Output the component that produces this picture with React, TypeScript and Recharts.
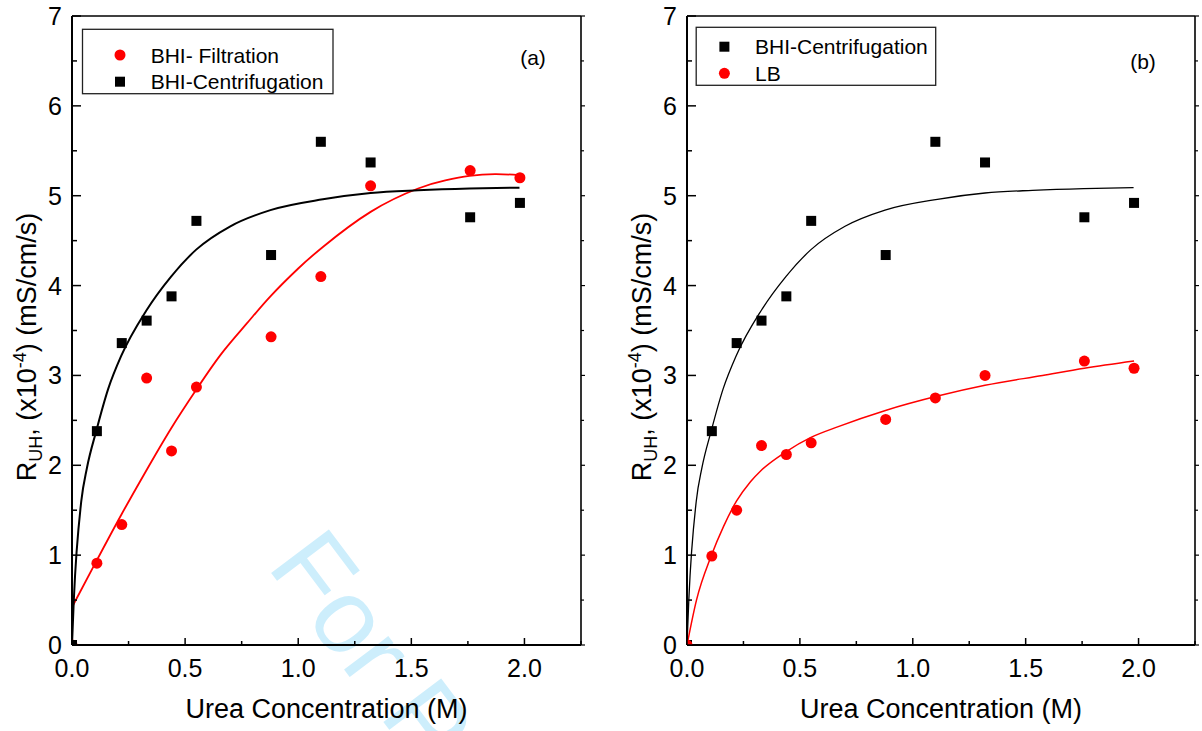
import { ComposedChart, Line, Scatter, XAxis, YAxis } from 'recharts'

// measured points (urea concentration in M)
const urea = [0, 0.11, 0.22, 0.33, 0.44, 0.55, 0.88, 1.1, 1.32, 1.76, 1.98]
const bhiCentrifugation = [0, 2.38, 3.36, 3.61, 3.88, 4.72, 4.34, 5.6, 5.37, 4.76, 4.92]
const bhiFiltration = [0, 0.91, 1.34, 2.97, 2.16, 2.87, 3.43, 4.1, 5.11, 5.28, 5.2]
const lb = [0, 0.99, 1.5, 2.22, 2.12, 2.25, 2.51, 2.75, 3.0, 3.16, 3.08]

// fitted curves
const centFitX = [0, 0.008, 0.041, 0.066, 0.107, 0.16, 0.218, 0.328, 0.438, 0.549, 0.7, 0.877, 1.109, 1.32, 1.53, 1.757, 1.978]
const centFitY = [0, 0.5, 1.6, 1.97, 2.38, 2.85, 3.22, 3.72, 4.1, 4.4, 4.66, 4.84, 4.96, 5.03, 5.06, 5.08, 5.09]
const filtFitX = [0, 0.107, 0.218, 0.328, 0.438, 0.549, 0.66, 0.77, 0.877, 1.0, 1.109, 1.32, 1.53, 1.65, 1.757, 1.87, 1.978]
const filtFitY = [0.42, 0.93, 1.45, 1.94, 2.41, 2.84, 3.24, 3.57, 3.88, 4.19, 4.43, 4.82, 5.08, 5.17, 5.22, 5.24, 5.23]
const lbFitX = [0, 0.042, 0.107, 0.162, 0.219, 0.282, 0.327, 0.438, 0.549, 0.67, 0.879, 1.11, 1.32, 1.575, 1.76, 1.98]
const lbFitY = [0, 0.5, 0.99, 1.32, 1.6, 1.82, 1.94, 2.15, 2.31, 2.43, 2.61, 2.77, 2.89, 3.0, 3.08, 3.16]

const xTicks = [0, 0.25, 0.5, 0.75, 1, 1.25, 1.5, 1.75, 2, 2.25]
const yTicks = [0, 0.5, 1, 1.5, 2, 2.5, 3, 3.5, 4, 4.5, 5, 5.5, 6, 6.5, 7]

const FONT = '"Liberation Sans", Arial, Helvetica, sans-serif'
const RED = '#ff0000'

type Pt = { x: number; y: number }
const toPoints = (xs: number[], ys: number[]): Pt[] => xs.map((x, i) => ({ x, y: ys[i] }))

const isStep = (v: number, step: number) => Math.abs(v / step - Math.round(v / step)) < 1e-6

const Square = (p: any) => <rect x={p.cx - 5} y={p.cy - 5} width={10} height={10} fill="#000" />
const Circle = (p: any) => <circle cx={p.cx} cy={p.cy} r={5.5} fill={RED} />

const BottomTick = (p: any) => {
  const v = p.payload.value
  const major = isStep(v, 0.5)
  return (
    <g>
      <line x1={p.x} x2={p.x} y1={p.y} y2={p.y - (major ? 7 : 4)} stroke="#000" strokeWidth={1.5} />
      {major && (
        <text x={p.x} y={p.y + 32} textAnchor="middle" fontSize={25} fontFamily={FONT} fill="#000">
          {v.toFixed(1)}
        </text>
      )}
    </g>
  )
}

const LeftTick = (p: any) => {
  const v = p.payload.value
  const major = isStep(v, 1)
  return (
    <g>
      <line x1={p.x} x2={p.x + (major ? 9 : 5)} y1={p.y} y2={p.y} stroke="#000" strokeWidth={1.5} />
      {major && (
        <text x={p.x - 10} y={p.y + 9} textAnchor="end" fontSize={25} fontFamily={FONT} fill="#000">
          {v}
        </text>
      )}
    </g>
  )
}

const TopTick = (p: any) => (
  <line x1={p.x} x2={p.x} y1={p.y} y2={p.y - (isStep(p.payload.value, 0.5) ? 3 : 2)} stroke="#000" strokeWidth={1.2} />
)

const RightTick = (p: any) => (
  <line x1={p.x} x2={p.x + (isStep(p.payload.value, 1) ? 4 : 3)} y1={p.y} y2={p.y} stroke="#000" strokeWidth={1.2} />
)

type Layer = { kind: 'fit' | 'dots'; data: Pt[]; color: string; width?: number; curve?: 'monotone' | 'natural'; shape?: any }
type LegendItem = { label: string; shape: 'square' | 'circle' }

type PanelProps = {
  left: number
  plotLeft: number
  plotRight: number
  layers: Layer[]
  legend: { x: number; y: number; w: number; h: number; mx: number; tx: number; rows: number[]; items: LegendItem[] }
  tag: { text: string; x: number; y: number }
}

const W = 601
const H = 731
const PLOT_TOP = 16
const PLOT_BOTTOM = 645

function Panel({ left, plotLeft, plotRight, layers, legend, tag }: PanelProps) {
  const plotCx = (plotLeft + plotRight) / 2
  // each axis takes 1px of room, so margins are set one pixel short
  const margin = { top: PLOT_TOP - 1, right: W - plotRight - 1, bottom: H - PLOT_BOTTOM - 1, left: plotLeft - 1 }
  const titleX = plotLeft - 36
  return (
    <div style={{ position: 'absolute', left, top: 0, width: W, height: H }}>
      <ComposedChart width={W} height={H} margin={margin}>
        <XAxis
          xAxisId="b"
          type="number"
          dataKey="x"
          domain={[0, 2.25]}
          ticks={xTicks}
          interval={0}
          allowDataOverflow
          height={1}
          tickSize={0}
          tickMargin={0}
          tick={BottomTick}
          axisLine={{ stroke: '#000', strokeWidth: 2 }}
        />
        <XAxis
          xAxisId="t"
          orientation="top"
          type="number"
          domain={[0, 2.25]}
          ticks={xTicks}
          interval={0}
          allowDataOverflow
          height={1}
          tickSize={0}
          tickMargin={0}
          tick={TopTick}
          axisLine={{ stroke: '#000', strokeWidth: 1.5 }}
        />
        <YAxis
          yAxisId="l"
          type="number"
          dataKey="y"
          domain={[0, 7]}
          ticks={yTicks}
          interval={0}
          allowDataOverflow
          width={1}
          tickSize={0}
          tickMargin={0}
          tick={LeftTick}
          axisLine={{ stroke: '#000', strokeWidth: 2 }}
        />
        <YAxis
          yAxisId="r"
          orientation="right"
          type="number"
          domain={[0, 7]}
          ticks={yTicks}
          interval={0}
          allowDataOverflow
          width={1}
          tickSize={0}
          tickMargin={0}
          tick={RightTick}
          axisLine={{ stroke: '#000', strokeWidth: 1.6 }}
        />
        {layers.map((l, i) =>
          l.kind === 'fit' ? (
            <Line
              key={i}
              xAxisId="b"
              yAxisId="l"
              data={l.data}
              dataKey="y"
              type={l.curve ?? 'monotone'}
              stroke={l.color}
              strokeWidth={l.width}
              dot={false}
              isAnimationActive={false}
            />
          ) : (
            <Scatter key={i} xAxisId="b" yAxisId="l" data={l.data} dataKey="y" shape={l.shape} isAnimationActive={false} />
          )
        )}
      </ComposedChart>
      <svg width={W} height={H} style={{ position: 'absolute', left: 0, top: 0, pointerEvents: 'none' }}>
        <g fontFamily={FONT} fill="#000">
          <rect x={legend.x} y={legend.y} width={legend.w} height={legend.h} fill="none" stroke="#222" strokeWidth={1.3} />
          {legend.items.map((it, i) => (
            <g key={it.label}>
              {it.shape === 'square' ? (
                <rect x={legend.mx - 5} y={legend.rows[i] - 5} width={10} height={10} fill="#000" />
              ) : (
                <circle cx={legend.mx} cy={legend.rows[i]} r={5.5} fill={RED} />
              )}
              <text x={legend.tx} y={legend.rows[i] + 7.5} fontSize={21}>
                {it.label}
              </text>
            </g>
          ))}
          <text x={tag.x} y={tag.y} fontSize={21} textAnchor="middle">
            {tag.text}
          </text>
          <text x={plotCx} y={718} fontSize={27} textAnchor="middle">
            Urea Concentration (M)
          </text>
          <text x={titleX} y={347} fontSize={27} textAnchor="middle" transform={`rotate(-90 ${titleX} 347)`}>
            R<tspan fontSize={18} dy={6}>UH</tspan>
            <tspan dy={-6}>, (x10</tspan>
            <tspan fontSize={18} dy={-10}>-4</tspan>
            <tspan dy={10}>) (mS/cm/s)</tspan>
          </text>
        </g>
      </svg>
    </div>
  )
}

export default function App() {
  const cent = toPoints(urea, bhiCentrifugation)
  const filt = toPoints(urea, bhiFiltration)
  const lbPts = toPoints(urea, lb)
  return (
    <div style={{ position: 'absolute', left: 0, top: 0, width: 1202, height: 731, background: '#fff', overflow: 'hidden' }}>
      <svg width={1202} height={731} style={{ position: 'absolute', left: 0, top: 0 }}>
        <text x={266} y={566} fontSize={105} fontFamily={FONT} fill="#cdeefc" transform="rotate(53 266 566)">
          For Peer Review
        </text>
      </svg>
      <Panel
        left={0}
        plotLeft={72}
        plotRight={581}
        layers={[
          { kind: 'fit', data: toPoints(filtFitX, filtFitY), color: RED, width: 1.8, curve: 'natural' },
          { kind: 'fit', data: toPoints(centFitX, centFitY), color: '#000', width: 2 },
          { kind: 'dots', data: filt, color: RED, shape: Circle },
          { kind: 'dots', data: cent, color: '#000', shape: Square },
        ]}
        legend={{
          x: 82.5,
          y: 29.3,
          w: 250.5,
          h: 64.4,
          mx: 120,
          tx: 150.7,
          rows: [55, 81.7],
          items: [
            { label: 'BHI- Filtration', shape: 'circle' },
            { label: 'BHI-Centrifugation', shape: 'square' },
          ],
        }}
        tag={{ text: '(a)', x: 533, y: 65 }}
      />
      <Panel
        left={601}
        plotLeft={86}
        plotRight={594}
        layers={[
          { kind: 'fit', data: toPoints(centFitX, centFitY), color: '#000', width: 1.3 },
          { kind: 'fit', data: toPoints(lbFitX, lbFitY), color: RED, width: 1.5 },
          { kind: 'dots', data: cent, color: '#000', shape: Square },
          { kind: 'dots', data: lbPts, color: RED, shape: Circle },
        ]}
        legend={{
          x: 95.2,
          y: 27.3,
          w: 239.5,
          h: 58,
          mx: 123.4,
          tx: 154,
          rows: [46.7, 73.3],
          items: [
            { label: 'BHI-Centrifugation', shape: 'square' },
            { label: 'LB', shape: 'circle' },
          ],
        }}
        tag={{ text: '(b)', x: 542, y: 68.6 }}
      />
    </div>
  )
}
